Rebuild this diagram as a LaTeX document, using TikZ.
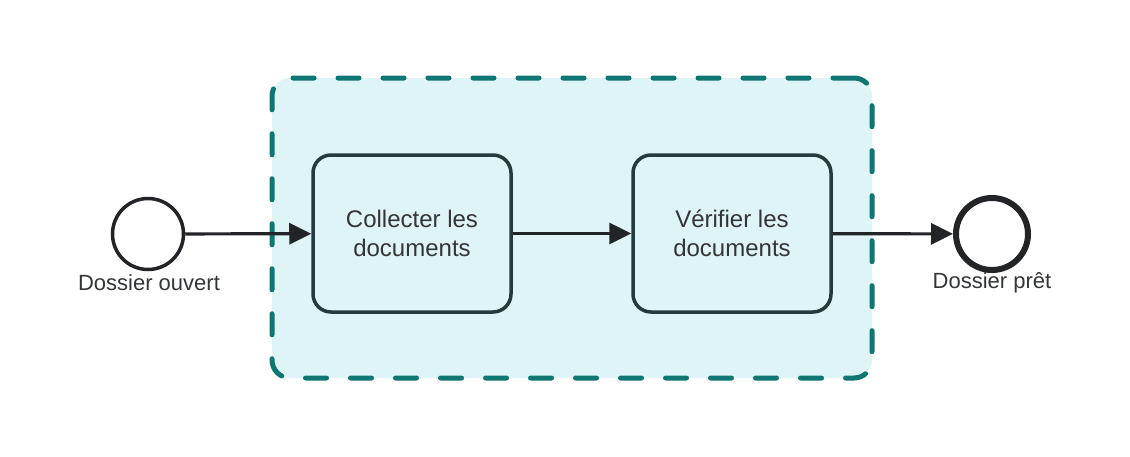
\documentclass[tikz,border=0pt]{standalone}
\usepackage{fontspec}
\setmainfont{Liberation Sans}
\usetikzlibrary{arrows.meta}
\definecolor{grpline}{HTML}{0E7773}
\definecolor{grpfill}{HTML}{DFF4F6}
\definecolor{taskline}{HTML}{243A3E}
\definecolor{flow}{HTML}{222428}
\definecolor{txt}{HTML}{333638}
\tikzset{
  x=1pt, y=-1pt,
  group/.style={draw=grpline, fill=grpfill, line width=5pt, line cap=round,
    dash pattern=on 21pt off 24pt, rounded corners=18pt,
    minimum width=600pt, minimum height=300pt, inner sep=0pt},
  task/.style={draw=taskline, fill=grpfill, line width=3.5pt, rounded corners=18pt,
    minimum width=198pt, minimum height=157pt, align=center, text=txt,
    font=\fontsize{24}{29}\selectfont},
  startev/.style={circle, draw=flow, fill=white, line width=3.5pt, minimum size=71pt, inner sep=0pt},
  endev/.style={circle, draw=flow, fill=white, line width=6pt, minimum size=72pt, inner sep=0pt},
  evlabel/.style={text=txt, font=\fontsize{22}{26}\selectfont, inner sep=0pt},
  seqflow/.style={draw=flow, line width=3.2pt, -{Triangle[length=22pt,width=21pt]}},
}
\begin{document}
\begin{tikzpicture}
\useasboundingbox (0,0) rectangle (1130,456);
\fill[white] (0,0) rectangle (1130,456);

% subprocess group
\node[group] (grp) at (572,228) {};

% events
\node[startev] (start) at (148,234) {};
\node[endev] (stop) at (992,234) {};
\node[evlabel] (startlbl) at (149,283) {Dossier ouvert};
\node[evlabel] (stoplbl) at (992,283) {Dossier prêt};

% tasks
\node[task] (collect) at (412,233.5) {Collecter les\\documents};
\node[task] (verify) at (732,233.5) {Vérifier les\\documents};

% sequence flows
\draw[seqflow] (start) -- (collect);
\draw[seqflow] (collect) -- (verify);
\draw[seqflow] (verify) -- (stop);
\end{tikzpicture}
\end{document}
